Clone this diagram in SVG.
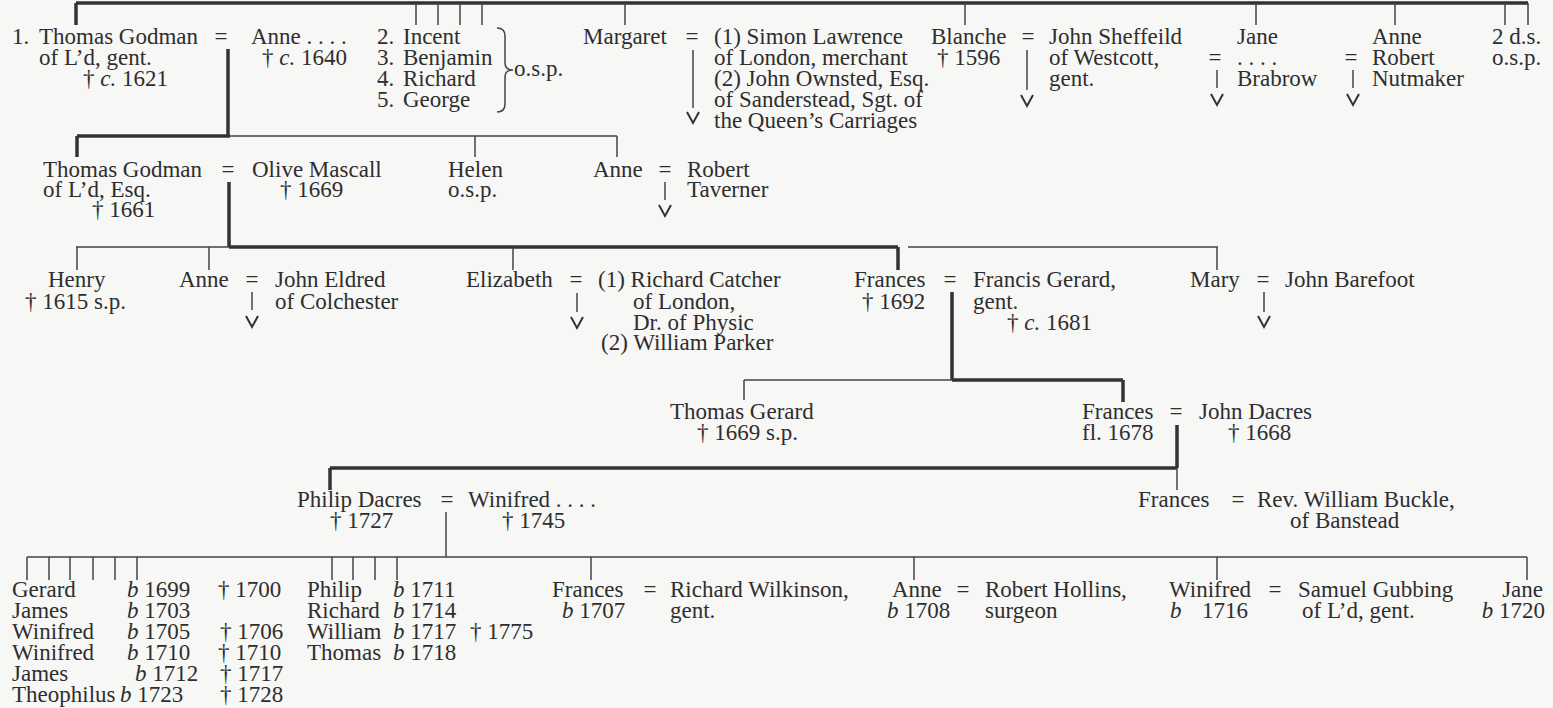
<svg xmlns="http://www.w3.org/2000/svg" width="1553" height="708" viewBox="0 0 1553 708">
<style>
text{font-family:"Liberation Serif","Times New Roman",serif;font-size:23px;fill:#2e2e2e}
.i{font-style:italic}
.eq{text-anchor:middle}
.th{stroke:#333;stroke-width:3.5;fill:none}
.tn{stroke:#444;stroke-width:1.5;fill:none}
.v{stroke:#333;stroke-width:2;fill:none}
</style>
<rect width="1553" height="708" fill="#f7f7f6"/>
<g id="connectors">
<path class="th" d="M76,3H1528M76,3V25M228,49V136M77,136H230M77,136V157M229,182V247M229,247H898M898,247V270M952,292V380M952,380H1123M1123,380V402M1177,425V468M330,468H1177M330,468V490"/>
<path class="tn" d="M416,3V25M438,3V25M460,3V25M482,3V25M625,3V25M965,3V25M1256,3V25M1395,3V25M1505,3V25M1528,3V25M230,136H617M475,136V157M617,136V157M76,247H229M77,247V270M209,247V270M513,247V270M908,247H1218M1217,247V270M744,380H952M744,380V400M1177,468V490M446,512V557M27,557H1527M27,557V580M49,557V580M70,557V580M93,557V580M115,557V580M137,557V580M332,557V580M353,557V580M375,557V580M397,557V580M591,557V580M914,557V580M1217,557V580M1527,557V580"/>
<path class="tn" d="M693,50V108M1027,50V90M1217,70V88M1353,70V88M665,182V200M252,292V310M577,293V312M1264,292V312"/>
<path class="v" d="M687,112L693,123L699,112M1021,95L1027,106L1033,95M1211,94L1217,105L1223,94M1347,94L1353,105L1359,94M659,205L665,216L671,205M246,316L252,327L258,316M571,317L577,328L583,317M1258,316L1264,327L1270,316"/>
<path class="tn" d="M497,28Q505,28 505,36L505,63Q505,70 513,70Q505,70 505,77L505,104Q505,112 497,112"/>
</g>
<g id="thomas-godman-1"><text x="12" y="44">1.<tspan x="39">Thomas Godman</tspan></text><text x="39" y="65">of L’d, gent.</text><text x="83" y="86">† <tspan class="i">c.</tspan> 1621</text></g>
<text class="eq" x="221" y="44">=</text>
<g id="anne-1"><text x="251" y="44">Anne . . . .</text><text x="262" y="65">† <tspan class="i">c.</tspan> 1640</text></g>
<g id="sons-osp"><text x="377" y="44">2.<tspan x="403">Incent</tspan></text><text x="377" y="65">3.<tspan x="403">Benjamin</tspan></text><text x="377" y="86">4.<tspan x="403">Richard</tspan></text><text x="377" y="107">5.<tspan x="403">George</tspan></text><text x="514" y="76">o.s.p.</text></g>
<g id="margaret"><text x="583" y="44">Margaret</text><text class="eq" x="692" y="44">=</text><text x="714" y="44">(1) Simon Lawrence</text><text x="714" y="65">of London, merchant</text><text x="714" y="86">(2) John Ownsted, Esq.</text><text x="714" y="107">of Sanderstead, Sgt. of</text><text x="714" y="128">the Queen’s Carriages</text></g>
<g id="blanche"><text x="931" y="44">Blanche</text><text x="937" y="65">† 1596</text><text class="eq" x="1028" y="44">=</text><text x="1049" y="44">John Sheffeild</text><text x="1049" y="65">of Westcott,</text><text x="1049" y="86">gent.</text></g>
<g id="jane"><text x="1237" y="44">Jane</text><text class="eq" x="1215" y="65">=</text><text x="1237" y="65">. . . .</text><text x="1237" y="86">Brabrow</text></g>
<g id="anne-nutmaker"><text x="1372" y="44">Anne</text><text class="eq" x="1351" y="65">=</text><text x="1372" y="65">Robert</text><text x="1372" y="86">Nutmaker</text></g>
<g id="two-ds"><text x="1492" y="44">2 d.s.</text><text x="1492" y="65">o.s.p.</text></g>
<g id="thomas-godman-2"><text x="43" y="177">Thomas Godman</text><text x="43" y="197">of L’d, Esq.</text><text x="92" y="217">† 1661</text></g>
<text class="eq" x="228" y="177">=</text>
<g id="olive-mascall"><text x="252" y="177">Olive Mascall</text><text x="280" y="197">† 1669</text></g>
<g id="helen"><text x="448" y="177">Helen</text><text x="448" y="197">o.s.p.</text></g>
<g id="anne-taverner"><text x="593" y="177">Anne</text><text class="eq" x="665" y="177">=</text><text x="687" y="177">Robert</text><text x="687" y="197">Taverner</text></g>
<g id="henry"><text x="48" y="287">Henry</text><text x="25" y="309">† 1615 s.p.</text></g>
<g id="anne-eldred"><text x="179" y="287">Anne</text><text class="eq" x="252" y="287">=</text><text x="275" y="287">John Eldred</text><text x="275" y="309">of Colchester</text></g>
<g id="elizabeth"><text x="466" y="287">Elizabeth</text><text class="eq" x="576" y="287">=</text><text x="598" y="287">(1) Richard Catcher</text><text x="633" y="309">of London,</text><text x="633" y="330">Dr. of Physic</text><text x="601" y="350">(2) William Parker</text></g>
<g id="frances-gerard"><text x="854" y="287">Frances</text><text x="862" y="309">† 1692</text><text class="eq" x="950" y="287">=</text><text x="973" y="287">Francis Gerard,</text><text x="973" y="309">gent.</text><text x="1007" y="330">† <tspan class="i">c.</tspan> 1681</text></g>
<g id="mary"><text x="1190" y="287">Mary</text><text class="eq" x="1263" y="287">=</text><text x="1285" y="287">John Barefoot</text></g>
<g id="thomas-gerard"><text x="670" y="419">Thomas Gerard</text><text x="697" y="440">† 1669 s.p.</text></g>
<g id="frances-dacres"><text x="1082" y="419">Frances</text><text x="1082" y="440">fl. 1678</text><text class="eq" x="1176" y="419">=</text><text x="1199" y="419">John Dacres</text><text x="1228" y="440">† 1668</text></g>
<g id="philip-dacres"><text x="297" y="507">Philip Dacres</text><text x="330" y="528">† 1727</text><text class="eq" x="447" y="507">=</text><text x="468" y="507">Winifred . . . .</text><text x="502" y="528">† 1745</text></g>
<g id="frances-buckle"><text x="1138" y="507">Frances</text><text class="eq" x="1238" y="507">=</text><text x="1257" y="507">Rev. William Buckle,</text><text x="1290" y="528">of Banstead</text></g>
<g id="children-a">
<text x="12" y="597">Gerard<tspan x="127" class="i">b</tspan> 1699<tspan x="218">† 1700</tspan></text>
<text x="12" y="618">James<tspan x="127" class="i">b</tspan> 1703</text>
<text x="12" y="639">Winifred<tspan x="127" class="i">b</tspan> 1705<tspan x="220">† 1706</tspan></text>
<text x="12" y="660">Winifred<tspan x="127" class="i">b</tspan> 1710<tspan x="218">† 1710</tspan></text>
<text x="12" y="681">James<tspan x="135" class="i">b</tspan> 1712<tspan x="220">† 1717</tspan></text>
<text x="12" y="702">Theophilus<tspan x="120" class="i">b</tspan> 1723<tspan x="220">† 1728</tspan></text>
</g>
<g id="children-b">
<text x="307" y="597">Philip<tspan x="393" class="i">b</tspan> 1711</text>
<text x="307" y="618">Richard<tspan x="393" class="i">b</tspan> 1714</text>
<text x="307" y="639">William<tspan x="393" class="i">b</tspan> 1717<tspan x="470">† 1775</tspan></text>
<text x="307" y="660">Thomas<tspan x="393" class="i">b</tspan> 1718</text>
</g>
<g id="frances-wilkinson"><text x="552" y="597">Frances</text><text x="562" y="618"><tspan class="i">b</tspan> 1707</text><text class="eq" x="650" y="597">=</text><text x="670" y="597">Richard Wilkinson,</text><text x="670" y="618">gent.</text></g>
<g id="anne-hollins"><text x="892" y="597">Anne</text><text x="887" y="618"><tspan class="i">b</tspan> 1708</text><text class="eq" x="963" y="597">=</text><text x="985" y="597">Robert Hollins,</text><text x="985" y="618">surgeon</text></g>
<g id="winifred-gubbing"><text x="1169" y="597">Winifred</text><text x="1170" y="618"><tspan class="i">b</tspan><tspan x="1202">1716</tspan></text><text class="eq" x="1275" y="597">=</text><text x="1298" y="597">Samuel Gubbing</text><text x="1302" y="618">of L’d, gent.</text></g>
<g id="jane-1720"><text x="1543" y="597" text-anchor="end">Jane</text><text x="1545" y="618" text-anchor="end"><tspan class="i">b</tspan> 1720</text></g>
</svg>
